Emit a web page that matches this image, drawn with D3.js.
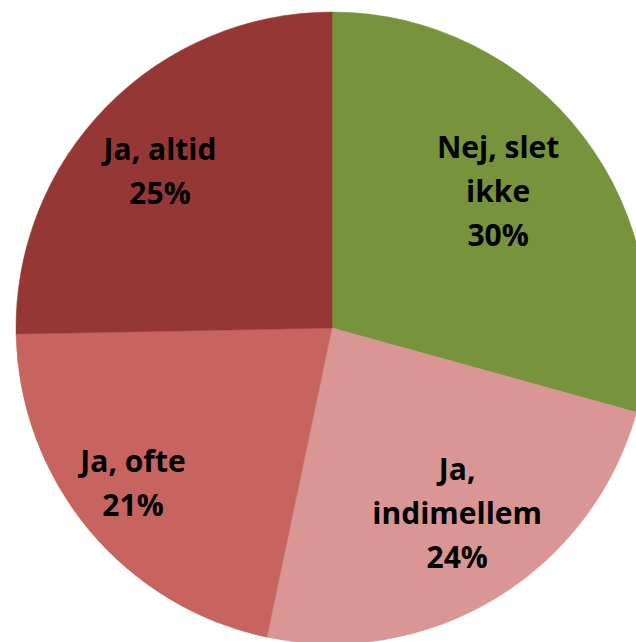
<!DOCTYPE html>
<html>
<head>
<meta charset="utf-8">
<script src="https://cdn.jsdelivr.net/npm/d3@7"></script>
<style>
  html, body { margin: 0; padding: 0; background: #fff; }
  svg { display: block; }
</style>
</head>
<body>
<svg id="chart" width="636" height="642"></svg>
<script>
// ---- data ----
const categories = ["Nej, slet ikke", "Ja, indimellem", "Ja, ofte", "Ja, altid"];
const values = [29.3, 24.0, 21.4, 25.3];
const pctLabels = ["30%", "24%", "21%", "25%"];
// label lines (as wrapped in the chart)
const labelLines = [["Nej, slet", "ikke"], ["Ja,", "indimellem"], ["Ja, ofte"], ["Ja, altid"]];
const colors = ["#77933C", "#D99694", "#C86460", "#953735"];

// ---- label placement (layout, relative to each slice's mid-angle) ----
const labelRadiusFactor = [0.681, 0.707, 0.798, 0.737];
const labelAngleOffsetDeg = [-2.2, -2.75, 1.7, -2.06];

// ---- layout ----
const W = 636, H = 642;
const cx = 332, cy = 328, R = 316;
const fontSize = 30, lineH = 44;

const svg = d3.select("#chart");
const g = svg.append("g").attr("transform", `translate(${cx},${cy})`);

const pie = d3.pie().sort(null).value(d => d.value);
const data = categories.map((c, i) => ({ cat: c, value: values[i], i }));
const arcs = pie(data);

const arc = d3.arc().innerRadius(0).outerRadius(R);

g.selectAll("path.slice")
  .data(arcs)
  .join("path")
  .attr("class", "slice")
  .attr("d", arc)
  .attr("fill", d => colors[d.data.i])
  .attr("stroke", d => colors[d.data.i])
  .attr("stroke-width", 0.5);

g.selectAll("text.lbl")
  .data(arcs)
  .join("text")
  .attr("class", "lbl")
  .attr("font-family", "'Open Sans', Lato, sans-serif")
  .attr("font-weight", "bold")
  .attr("font-size", fontSize)
  .attr("fill", "#000")
  .attr("text-anchor", "middle")
  .each(function(d) {
    const i = d.data.i;
    const rr = R * labelRadiusFactor[i];
    const a = (d.startAngle + d.endAngle) / 2 + labelAngleOffsetDeg[i] * Math.PI / 180;
    const x = Math.sin(a) * rr;
    const y = -Math.cos(a) * rr;
    const lines = labelLines[i].concat([pctLabels[i]]);
    const capH = fontSize * 0.714;
    const blockH = (lines.length - 1) * lineH + capH;
    const firstBase = y - blockH / 2 + capH;
    const t = d3.select(this);
    lines.forEach((ln, k) => {
      t.append("tspan")
        .attr("x", x)
        .attr("y", firstBase + k * lineH)
        .text(ln);
    });
  });
</script>
</body>
</html>
